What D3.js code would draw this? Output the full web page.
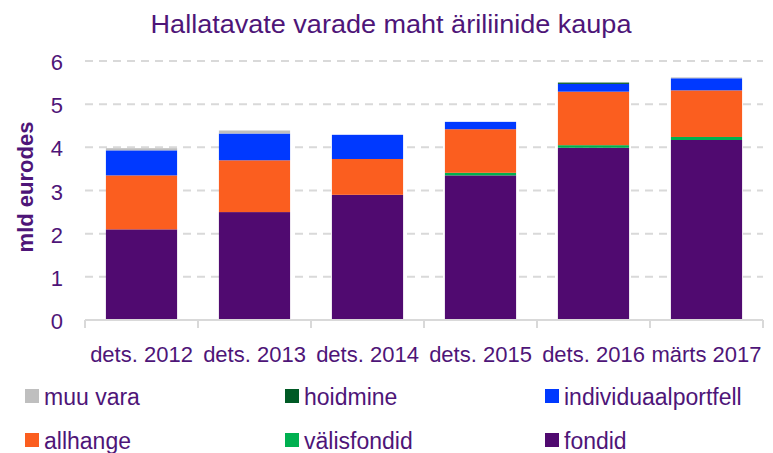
<!DOCTYPE html>
<html>
<head>
<meta charset="utf-8">
<script src="https://cdn.jsdelivr.net/npm/d3@7"></script>
<style>
  body { margin: 0; background: #fff; }
  svg text { font-family: "Liberation Sans", Arial, sans-serif; fill: #4e1578; }
</style>
</head>
<body>
<div id="chart"></div>
<script>
// categories and series (mld eurodes), bottom to top of each stack
var categories = ["dets. 2012", "dets. 2013", "dets. 2014", "dets. 2015", "dets. 2016", "märts 2017"];
var fondid = [2.10, 2.50, 2.90, 3.35, 3.99, 4.17];
var valisfondid = [0, 0, 0, 0.06, 0.06, 0.07];
var allhange = [1.25, 1.20, 0.83, 1.01, 1.24, 1.08];
var individuaalportfell = [0.58, 0.62, 0.56, 0.17, 0.18, 0.28];
var hoidmine = [0, 0, 0, 0, 0.03, 0];
var muuVara = [0.05, 0.07, 0, 0, 0, 0.02];
var yTicks = [0, 1, 2, 3, 4, 5, 6];

var series = [
  {key: "fondid", values: fondid, color: "#500a70"},
  {key: "välisfondid", values: valisfondid, color: "#00b050"},
  {key: "allhange", values: allhange, color: "#fb5e1f"},
  {key: "individuaalportfell", values: individuaalportfell, color: "#0039ff"},
  {key: "hoidmine", values: hoidmine, color: "#005a25"},
  {key: "muu vara", values: muuVara, color: "#bfbfbf"}
];

// legend order as in the picture
var legendOrder = ["muu vara", "hoidmine", "individuaalportfell", "allhange", "välisfondid", "fondid"];

window.onload = function() {
  var W = 773, H = 453;
  var margin = {top: 61, left: 85, right: 10, bottom: 133};
  var width = W - margin.left - margin.right,
    height = H - margin.top - margin.bottom;

  var svg = d3.select("#chart").append("svg")
    .attr("width", W).attr("height", H);

  // title
  svg.append("text")
    .attr("transform", "translate(391,33) scale(1.04,1)")
    .attr("text-anchor", "middle")
    .style("font-size", "26px")
    .text("Hallatavate varade maht äriliinide kaupa");

  var g = svg.append("g")
    .attr("transform", "translate(" + margin.left + "," + margin.top + ")");

  var x = d3.scaleBand().domain(categories).range([0, width]).paddingInner(0.37).paddingOuter(0.185);
  var y = d3.scaleLinear().domain([0, 6]).range([height, 0]);

  // gridlines
  g.selectAll(".grid").data(yTicks.filter(function(d) { return d > 0; }))
    .enter().append("line")
    .attr("x1", 0).attr("x2", width)
    .attr("y1", function(d) { return y(d); }).attr("y2", function(d) { return y(d); })
    .attr("stroke", "#d9d9d9").attr("stroke-width", 2)
    .attr("stroke-dasharray", "8,6");

  // stacked data
  var table = categories.map(function(c, i) {
    var row = {cat: c};
    series.forEach(function(s) { row[s.key] = s.values[i]; });
    return row;
  });
  var stack = d3.stack().keys(series.map(function(s) { return s.key; }));
  var stacked = stack(table);

  g.selectAll(".layer").data(stacked).enter().append("g")
    .attr("fill", function(d, i) { return series[i].color; })
    .selectAll("rect").data(function(d) { return d; })
    .enter().append("rect")
    .attr("x", function(d) { return x(d.data.cat); })
    .attr("width", x.bandwidth())
    .attr("y", function(d) { return y(d[1]); })
    .attr("height", function(d) { return y(d[0]) - y(d[1]); });

  // x axis line and category boundary ticks
  var step = x.step();
  g.append("line")
    .attr("x1", 0).attr("x2", width)
    .attr("y1", height).attr("y2", height)
    .attr("stroke", "#d9d9d9").attr("stroke-width", 2);
  g.selectAll(".xtick").data(d3.range(categories.length + 1))
    .enter().append("line")
    .attr("x1", function(d) { return d * step; }).attr("x2", function(d) { return d * step; })
    .attr("y1", height).attr("y2", height + 8)
    .attr("stroke", "#d9d9d9").attr("stroke-width", 2);

  g.selectAll(".xlabel").data(categories)
    .enter().append("text")
    .attr("x", function(d) { return x(d) + x.bandwidth() / 2; })
    .attr("y", height + 42)
    .attr("text-anchor", "middle")
    .style("font-size", "22px")
    .text(function(d) { return d; });

  // y tick labels
  g.selectAll(".ylabel").data(yTicks)
    .enter().append("text")
    .attr("x", -22).attr("y", function(d) { return y(d) + 9; })
    .attr("text-anchor", "end")
    .style("font-size", "22px")
    .text(function(d) { return d; });

  // y axis title
  svg.append("text")
    .attr("transform", "translate(33,187) rotate(-90)")
    .attr("text-anchor", "middle")
    .style("font-size", "22px")
    .style("font-weight", "bold")
    .text("mld eurodes");

  // legend
  var colX = [25, 285, 545], rowY = [389, 433];
  var legend = svg.selectAll(".legend").data(legendOrder).enter().append("g")
    .attr("transform", function(d, i) {
      return "translate(" + colX[i % 3] + "," + rowY[Math.floor(i / 3)] + ")";
    });
  legend.append("rect")
    .attr("width", 14).attr("height", 14)
    .attr("fill", function(d) { return series.find(function(s) { return s.key === d; }).color; });
  legend.append("text")
    .attr("x", 19).attr("y", 16)
    .style("font-size", "23px")
    .text(function(d) { return d; });
};
</script>
</body>
</html>
